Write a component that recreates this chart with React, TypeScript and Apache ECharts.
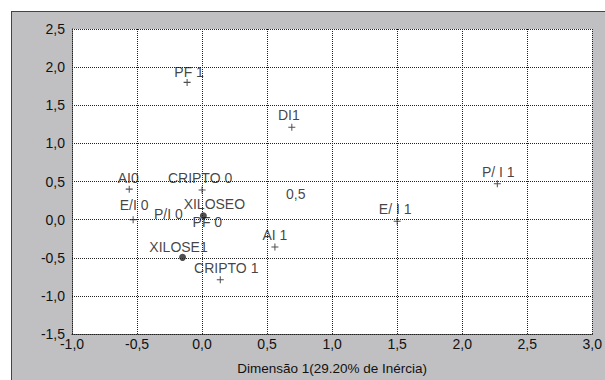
import React, { useEffect, useRef } from "react";
import * as echarts from "echarts";

const pointNames = ["PF 1", "DI1", "AI0", "CRIPTO 0", "E/I 0", "XILOSEO", "P/I 0", "PF 0", "XILOSE1", "CRIPTO 1", "AI 1", "0,5", "E/ I 1", "P/ I 1"];
const dim1Values = [-0.115, 0.69, -0.56, 0.0, -0.53, 0.01, 0.01, 0.01, -0.15, 0.14, 0.56, 0.72, 1.5, 2.27];
const dim2Values = [1.8, 1.21, 0.4, 0.39, 0.0, 0.05, 0.05, 0.05, -0.495, -0.79, -0.36, 0.33, -0.02, 0.47];
const markerKinds = ["plus", "plus", "plus", "plus", "plus", "dot", "none", "none", "dot", "plus", "plus", "none", "plus", "plus"];

const xTitle = "Dimensão 1(29.20% de Inércia)";

// label offsets in pixels (layout only)
const labelOffsets: Record<string, [number, number]> = {
  "PF 1": [2, -10],
  "DI1": [-3, -12],
  "AI0": [-1, -11],
  "CRIPTO 0": [-2, -12],
  "E/I 0": [1, -15],
  "XILOSEO": [11, -12],
  "P/I 0": [-35, -2],
  "PF 0": [4, 6],
  "XILOSE1": [-4, -10],
  "CRIPTO 1": [6, -12],
  "AI 1": [0, -12],
  "0,5": [0, 0],
  "E/ I 1": [-2, -12],
  "P/ I 1": [1, -12],
};

const PLUS = "path://M3,0 h1 v7 h-1 z M0,3 h7 v1 h-7 z";
const FONT = "Liberation Sans";
const TXT = "#111";

function fmt(v: number) {
  return v.toFixed(1).replace(".", ",");
}

export default function App() {
  const ref = useRef<HTMLDivElement>(null);
  useEffect(() => {
    if (!ref.current) return;
    const chart = echarts.init(ref.current, null, { renderer: "svg" });
    const data = pointNames.map((name, i) => {
      const kind = markerKinds[i];
      const item: any = {
        name,
        value: [dim1Values[i], dim2Values[i]],
        label: { offset: labelOffsets[name] || [0, -12] },
      };
      if (kind === "plus") {
        item.symbol = PLUS;
        item.symbolSize = 7;
        item.itemStyle = { color: "#222" };
      } else if (kind === "dot") {
        item.symbol = "circle";
        item.symbolSize = 7;
        item.itemStyle = { color: "#222" };
      } else {
        item.symbol = "circle";
        item.symbolSize = 1;
        item.itemStyle = { color: "rgba(0,0,0,0)" };
      }
      return item;
    });
    const dotted = { color: "#222", width: 1, type: [1, 1] as any };
    chart.setOption({
      animation: false,
      backgroundColor: "#fff",
      graphic: {
        elements: [
          { type: "rect", z: -100, shape: { x: 11, y: 11, width: 594, height: 369 }, style: { fill: "#c0c0c2" } },
          { type: "line", z: -99, shape: { x1: 11, y1: 11.5, x2: 605, y2: 11.5 }, style: { stroke: "#444", lineWidth: 1 } },
          { type: "line", z: -99, shape: { x1: 11.5, y1: 11, x2: 11.5, y2: 380 }, style: { stroke: "#444", lineWidth: 1 } },
        ],
      },
      grid: { left: 72, top: 29, right: 9, bottom: 46, show: true, backgroundColor: "#fff", borderWidth: 0 },
      xAxis: {
        type: "value",
        min: -1,
        max: 3,
        interval: 0.5,
        name: xTitle,
        nameLocation: "middle",
        nameGap: 27,
        nameTextStyle: { fontFamily: FONT, fontSize: 13.5, color: TXT },
        axisLine: { show: true, onZero: false, lineStyle: dotted },
        axisTick: { show: false },
        axisLabel: { formatter: fmt, fontFamily: FONT, fontSize: 14, color: TXT, margin: 3 },
        splitLine: { show: true, lineStyle: dotted },
      },
      yAxis: {
        type: "value",
        min: -1.5,
        max: 2.5,
        interval: 0.5,
        axisLine: { show: true, onZero: false, lineStyle: dotted },
        axisTick: { show: false },
        axisLabel: { formatter: fmt, fontFamily: FONT, fontSize: 14, color: TXT, margin: 7 },
        splitLine: { show: true, lineStyle: dotted },
      },
      series: [
        {
          type: "scatter",
          data,
          label: {
            show: true,
            position: "inside",
            formatter: (p: any) => p.name,
            fontFamily: FONT,
            fontSize: 14,
            color: TXT,
            align: "center",
            verticalAlign: "middle",
          },
          emphasis: { disabled: true },
        },
      ],
    });
    return () => chart.dispose();
  }, []);
  return <div ref={ref} style={{ position: "fixed", left: 0, top: 0, width: 605, height: 380 }} />;
}
